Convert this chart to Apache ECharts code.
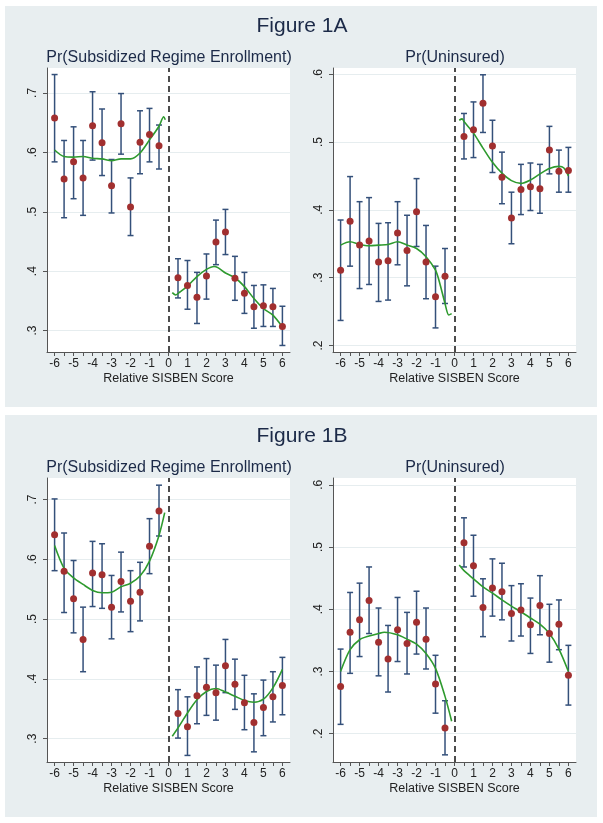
<!DOCTYPE html>
<html>
<head>
<meta charset="utf-8">
<script src="https://cdn.jsdelivr.net/npm/echarts@6/dist/echarts.min.js"></script>
<style>
  html, body { margin: 0; padding: 0; background: #fff; }
  #chart { width: 603px; height: 823px; }
</style>
</head>
<body>
<div id="chart"></div>
<script>
// bins of the relative SISBEN score (no bin at 0)
var xs = [-6, -5.5, -5, -4.5, -4, -3.5, -3, -2.5, -2, -1.5, -1, -0.5,
          0.5, 1, 1.5, 2, 2.5, 3, 3.5, 4, 4.5, 5, 5.5, 6];
var xLabels = [-6, -5, -4, -3, -2, -1, 0, 1, 2, 3, 4, 5, 6];
var xTicks = [-6, -5.5, -5, -4.5, -4, -3.5, -3, -2.5, -2, -1.5, -1, -0.5, 0,
              0.5, 1, 1.5, 2, 2.5, 3, 3.5, 4, 4.5, 5, 5.5, 6];
var ySubTicks = [0.3, 0.4, 0.5, 0.6, 0.7];
var yUninsTicks = [0.2, 0.3, 0.4, 0.5, 0.6];

// Figure 1A - Pr(Subsidized Regime Enrollment)
var subA_mean = [0.658, 0.555, 0.584, 0.557, 0.645, 0.616, 0.544, 0.648, 0.508, 0.617, 0.630, 0.611,
                 0.389, 0.376, 0.356, 0.392, 0.449, 0.466, 0.388, 0.363, 0.340, 0.342, 0.340, 0.307];
var subA_lo = [0.584, 0.490, 0.522, 0.494, 0.587, 0.561, 0.498, 0.597, 0.460, 0.564, 0.584, 0.572,
               0.355, 0.336, 0.312, 0.353, 0.411, 0.428, 0.351, 0.329, 0.304, 0.307, 0.307, 0.275];
var subA_hi = [0.731, 0.620, 0.643, 0.620, 0.702, 0.673, 0.588, 0.699, 0.557, 0.670, 0.674, 0.646,
               0.421, 0.418, 0.398, 0.429, 0.486, 0.504, 0.425, 0.398, 0.376, 0.377, 0.371, 0.341];
var subA_fitL = [[-6, 0.604], [-5.5, 0.593], [-5, 0.592], [-4.5, 0.593], [-4, 0.590], [-3.5, 0.589],
                 [-3, 0.586], [-2.5, 0.589], [-2, 0.589], [-1.5, 0.599], [-1, 0.621], [-0.5, 0.644],
                 [-0.25, 0.660], [-0.17, 0.655]];
var subA_fitR = [[0.2, 0.364], [0.38, 0.360], [0.6, 0.365], [1, 0.375], [1.5, 0.391], [2, 0.403],
                 [2.4, 0.408], [2.6, 0.406], [3, 0.397], [3.5, 0.389], [4, 0.374], [4.5, 0.354],
                 [5, 0.337], [5.5, 0.326], [6, 0.306]];

// Figure 1A - Pr(Uninsured)
var unA_mean = [0.311, 0.383, 0.348, 0.354, 0.323, 0.325, 0.366, 0.340, 0.397, 0.323, 0.272, 0.302,
                0.508, 0.518, 0.557, 0.494, 0.448, 0.388, 0.430, 0.434, 0.431, 0.488, 0.457, 0.458];
var unA_lo = [0.237, 0.317, 0.284, 0.290, 0.265, 0.267, 0.319, 0.288, 0.346, 0.269, 0.226, 0.262,
              0.475, 0.477, 0.514, 0.455, 0.409, 0.350, 0.393, 0.399, 0.395, 0.453, 0.426, 0.426];
var unA_hi = [0.385, 0.449, 0.412, 0.418, 0.380, 0.381, 0.412, 0.392, 0.446, 0.377, 0.317, 0.343,
              0.542, 0.559, 0.599, 0.532, 0.485, 0.426, 0.467, 0.469, 0.467, 0.523, 0.488, 0.492];
var unA_fitL = [[-6, 0.348], [-5.5, 0.353], [-5, 0.349], [-4.5, 0.347], [-4, 0.348], [-3.5, 0.349],
                [-3, 0.353], [-2.5, 0.348], [-2, 0.343], [-1.5, 0.331], [-1, 0.311], [-0.75, 0.289],
                [-0.5, 0.262], [-0.3, 0.245], [-0.15, 0.247]];
var unA_fitR = [[0.25, 0.532], [0.4, 0.534], [0.5, 0.530], [1, 0.513], [1.5, 0.491], [2, 0.470],
                [2.5, 0.454], [3, 0.443], [3.5, 0.439], [4, 0.444], [4.5, 0.453], [5, 0.461],
                [5.5, 0.464], [5.75, 0.462], [6, 0.450]];

// Figure 1B - Pr(Subsidized Regime Enrollment)
var subB_mean = [0.641, 0.580, 0.534, 0.466, 0.577, 0.574, 0.520, 0.563, 0.530, 0.545, 0.622, 0.681,
                 0.342, 0.320, 0.372, 0.386, 0.377, 0.422, 0.391, 0.360, 0.327, 0.352, 0.370, 0.389];
var subB_lo = [0.581, 0.511, 0.477, 0.412, 0.521, 0.518, 0.467, 0.512, 0.479, 0.497, 0.576, 0.639,
               0.301, 0.272, 0.325, 0.339, 0.331, 0.377, 0.349, 0.315, 0.278, 0.305, 0.328, 0.340];
var subB_hi = [0.701, 0.644, 0.598, 0.520, 0.630, 0.626, 0.573, 0.612, 0.581, 0.595, 0.668, 0.724,
               0.382, 0.370, 0.420, 0.434, 0.423, 0.466, 0.433, 0.406, 0.375, 0.398, 0.412, 0.436];
var subB_fitL = [[-6, 0.623], [-5.5, 0.585], [-5, 0.569], [-4.5, 0.558], [-4, 0.548], [-3.5, 0.544],
                 [-3, 0.545], [-2.5, 0.554], [-2, 0.560], [-1.5, 0.572], [-1, 0.597], [-0.5, 0.640],
                 [-0.2, 0.678]];
var subB_fitR = [[0.2, 0.304], [0.5, 0.318], [1, 0.343], [1.5, 0.365], [2, 0.379], [2.5, 0.384],
                 [3, 0.378], [3.5, 0.371], [4, 0.364], [4.5, 0.361], [5, 0.366], [5.5, 0.385],
                 [6, 0.416]];

// Figure 1B - Pr(Uninsured)
var unB_mean = [0.276, 0.363, 0.383, 0.414, 0.347, 0.320, 0.367, 0.345, 0.379, 0.352, 0.280, 0.209,
                0.507, 0.470, 0.403, 0.434, 0.428, 0.393, 0.399, 0.375, 0.406, 0.361, 0.376, 0.294];
var unB_lo = [0.215, 0.297, 0.324, 0.361, 0.293, 0.267, 0.316, 0.296, 0.328, 0.304, 0.233, 0.166,
              0.468, 0.421, 0.356, 0.389, 0.383, 0.349, 0.357, 0.329, 0.359, 0.315, 0.335, 0.246];
var unB_hi = [0.336, 0.427, 0.442, 0.468, 0.402, 0.374, 0.419, 0.395, 0.429, 0.402, 0.326, 0.253,
              0.547, 0.519, 0.449, 0.481, 0.474, 0.438, 0.441, 0.418, 0.454, 0.408, 0.415, 0.342];
var unB_fitL = [[-6, 0.300], [-5.5, 0.335], [-5, 0.351], [-4.5, 0.357], [-4, 0.361], [-3.7, 0.363],
                [-3, 0.359], [-2.5, 0.352], [-2, 0.344], [-1.5, 0.329], [-1, 0.305], [-0.5, 0.260],
                [-0.15, 0.220]];
var unB_fitR = [[0.25, 0.471], [0.5, 0.462], [1, 0.449], [1.5, 0.436], [2, 0.426], [2.5, 0.415],
                [3, 0.405], [3.5, 0.396], [4, 0.386], [4.5, 0.376], [5, 0.361], [5.5, 0.336],
                [6, 0.300]];

// colours
var bgColor = '#e8eef0';
var textColor = '#1c2a48';
var barColor = '#34507a';
var dotColor = '#a12f2f';
var fitColor = '#2e9a2e';
var FONT = '"Liberation Sans", Arial, sans-serif';

// panel layout: grid position and y range
var panels = [
  { left: 47, top: 68, ymin: 0.264, ymax: 0.742, ticks: ySubTicks, mean: subA_mean, lo: subA_lo, hi: subA_hi, fitL: subA_fitL, fitR: subA_fitR },
  { left: 333, top: 68, ymin: 0.1905, ymax: 0.609, ticks: yUninsTicks, mean: unA_mean, lo: unA_lo, hi: unA_hi, fitL: unA_fitL, fitR: unA_fitR },
  { left: 47, top: 478, ymin: 0.261, ymax: 0.736, ticks: ySubTicks, mean: subB_mean, lo: subB_lo, hi: subB_hi, fitL: subB_fitL, fitR: subB_fitR },
  { left: 333, top: 478, ymin: 0.1545, ymax: 0.611, ticks: yUninsTicks, mean: unB_mean, lo: unB_lo, hi: unB_hi, fitL: unB_fitL, fitR: unB_fitR }
];

function zip3(a, b, c) {
  return a.map(function (v, i) { return [v, b[i], c[i]]; });
}

function errorBar(params, api) {
  var x = api.value(0);
  var p1 = api.coord([x, api.value(1)]);
  var p2 = api.coord([x, api.value(2)]);
  var w = 3;
  var st = { stroke: barColor, lineWidth: 1.5 };
  return {
    type: 'group',
    children: [
      { type: 'line', shape: { x1: p1[0], y1: p1[1], x2: p2[0], y2: p2[1] }, style: st },
      { type: 'line', shape: { x1: p1[0] - w, y1: p1[1], x2: p1[0] + w, y2: p1[1] }, style: st },
      { type: 'line', shape: { x1: p2[0] - w, y1: p2[1], x2: p2[0] + w, y2: p2[1] }, style: st }
    ]
  };
}

var grids = [], xAxes = [], yAxes = [], series = [];

panels.forEach(function (p, i) {
  grids.push({
    left: p.left, top: p.top, width: 243, height: 284,
    show: true, backgroundColor: '#fff', borderWidth: 0
  });
  xAxes.push({
    type: 'value', gridIndex: i, min: -6.4, max: 6.4,
    name: 'Relative SISBEN Score', nameLocation: 'middle', nameGap: 20,
    nameTextStyle: { fontFamily: FONT, fontSize: 12.5, color: '#222' },
    axisLine: { show: true, onZero: false, lineStyle: { color: '#555', width: 1 } },
    axisTick: { show: true, length: 4, customValues: xTicks, lineStyle: { color: '#555' } },
    axisLabel: { customValues: xLabels, margin: 6, fontFamily: FONT, fontSize: 12, color: '#222' },
    splitLine: { show: false }
  });
  yAxes.push({
    type: 'value', gridIndex: i, min: p.ymin, max: p.ymax,
    axisLine: { show: true, onZero: false, lineStyle: { color: '#555', width: 1 } },
    axisTick: { show: true, length: 4, customValues: p.ticks, lineStyle: { color: '#555' } },
    axisLabel: {
      customValues: p.ticks, rotate: 90, margin: 8, fontFamily: FONT, fontSize: 12, color: '#222',
      formatter: function (v) { return String(Math.round(v * 10) / 10).replace('0.', '.'); }
    },
    splitLine: { show: true, lineStyle: { color: '#e6edef', width: 1 } }
  });
  series.push({
    type: 'custom', xAxisIndex: i, yAxisIndex: i,
    renderItem: errorBar, data: zip3(xs, p.lo, p.hi), z: 3,
    markLine: {
      silent: true, symbol: 'none', label: { show: false },
      lineStyle: { color: '#111', type: [6, 4], width: 1.5 },
      data: [{ xAxis: 0 }]
    }
  });
  series.push({
    type: 'line', xAxisIndex: i, yAxisIndex: i, data: p.fitL,
    smooth: 0.3, showSymbol: false, lineStyle: { color: fitColor, width: 1.6 }, z: 4
  });
  series.push({
    type: 'line', xAxisIndex: i, yAxisIndex: i, data: p.fitR,
    smooth: 0.3, showSymbol: false, lineStyle: { color: fitColor, width: 1.6 }, z: 4
  });
  series.push({
    type: 'scatter', xAxisIndex: i, yAxisIndex: i,
    data: xs.map(function (x, k) { return [x, p.mean[k]]; }),
    symbolSize: 7, itemStyle: { color: dotColor, opacity: 1 }, z: 5
  });
});

function label(text, x, y, size) {
  return {
    type: 'text', x: x, y: y, z: 20,
    style: { text: text, fill: textColor, font: size + 'px ' + FONT, align: 'center', verticalAlign: 'middle' }
  };
}

var myChart = echarts.init(document.getElementById('chart'), null, { renderer: 'canvas' });
var option = {
  animation: false,
  backgroundColor: '#fff',
  graphic: {
    elements: [
      { type: 'rect', z: -10, shape: { x: 5, y: 6, width: 592, height: 401 }, style: { fill: bgColor } },
      { type: 'rect', z: -10, shape: { x: 5, y: 415, width: 592, height: 402 }, style: { fill: bgColor } },
      label('Figure 1A', 302, 26, 21),
      label('Figure 1B', 302, 436, 21),
      label('Pr(Subsidized Regime Enrollment)', 169, 58, 16),
      label('Pr(Uninsured)', 455, 58, 16),
      label('Pr(Subsidized Regime Enrollment)', 169, 468, 16),
      label('Pr(Uninsured)', 455, 468, 16)
    ]
  },
  grid: grids,
  xAxis: xAxes,
  yAxis: yAxes,
  series: series
};
myChart.setOption(option);
</script>
</body>
</html>
